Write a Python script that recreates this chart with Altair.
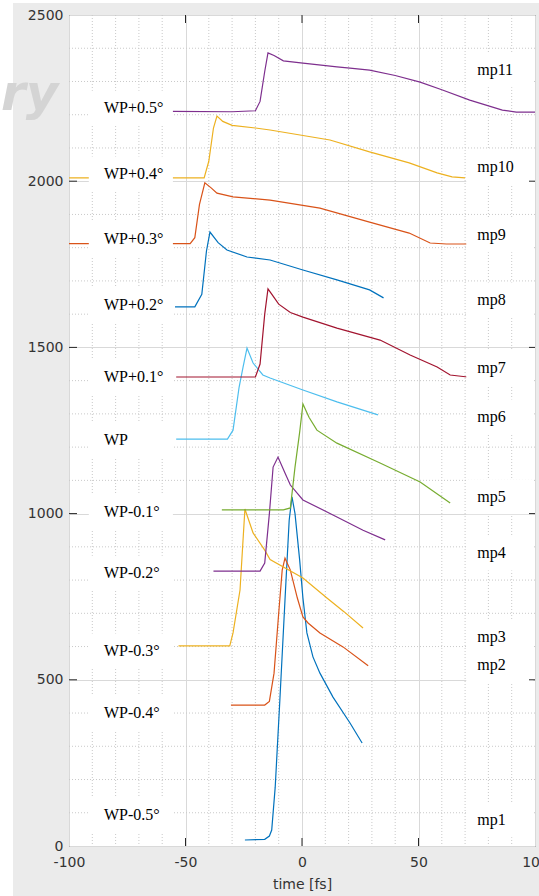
import altair as alt
import pandas as pd

# ---------------- data ----------------
series_names = ["mp1", "mp2", "mp3", "mp4", "mp5", "mp6", "mp7", "mp8", "mp9", "mp10", "mp11"]
series_colors = ["#0072BD", "#D95319", "#EDB120", "#7E2F8E", "#77AC30", "#4DBEEE",
                 "#A2142F", "#0072BD", "#D95319", "#EDB120", "#7E2F8E"]

mp1_t = [-24.5, -16, -14, -13, -11.5, -9.5, -7.3, -5.5, -4.3, -3, -1, 0.4, 2.1, 4.7, 7.7, 13.3, 20.6, 25.8]
mp1_v = [18, 20, 30, 48, 177, 439, 740, 980, 1050, 1000, 860, 746, 641, 569, 520, 448, 370, 310]

mp2_t = [-30.5, -16, -14, -12, -10, -8.5, -7.3, -5, -2, 0.4, 2.6, 7.7, 17.6, 28.4]
mp2_v = [424, 424, 435, 520, 700, 830, 866, 830, 746, 689, 671, 641, 599, 542]

mp3_t = [-53, -31, -29.6, -26.6, -24.5, -21, -16, -13.7, 0.4, 10.7, 18, 26.2]
mp3_v = [602, 602, 641, 770, 1014, 942, 890, 862, 806, 746, 705, 656]

mp4_t = [-38, -18, -16, -14, -12.4, -10.3, -7.3, -5, 0.4, 15, 26.2, 35.7]
mp4_v = [827, 827, 851, 1000, 1140, 1170, 1122, 1086, 1041, 990, 950, 921]

mp5_t = [-34.4, -8, -5, -3, -1, 0.4, 3, 6.4, 15, 33.5, 50.7, 63.6]
mp5_v = [1011, 1011, 1017, 1140, 1245, 1330, 1290, 1251, 1212, 1152, 1095, 1032]

mp6_t = [-54, -32, -29.6, -27, -25.3, -23.6, -21, -16.8, -13.7, 0.4, 15, 32.6]
mp6_v = [1224, 1224, 1251, 1380, 1441, 1498, 1453, 1417, 1408, 1372, 1336, 1297]

mp7_t = [-54, -20, -18, -16, -14.6, -13, -10, -5, 0.4, 15, 33.5, 46.4, 58, 63.6, 71]
mp7_v = [1411, 1411, 1450, 1600, 1676, 1660, 1630, 1605, 1591, 1558, 1522, 1477, 1441, 1417, 1411]

mp8_t = [-54.5, -46, -43, -41, -39.5, -36, -32.2, -23.6, -13.7, 0.4, 15, 29, 35]
mp8_v = [1622, 1622, 1660, 1790, 1847, 1815, 1793, 1772, 1763, 1733, 1703, 1673, 1649]

mp9_t = [-100, -48, -46, -44, -41.7, -39, -36.5, -29.6, -13.7, 7.7, 29, 46, 55, 62, 71.3]
mp9_v = [1812, 1812, 1830, 1930, 1995, 1980, 1964, 1953, 1943, 1919, 1877, 1844, 1814, 1811, 1811]

mp10_t = [-100, -42, -40, -38, -36.5, -34, -30, -20, -13.7, 12, 29, 46, 58, 64.4, 70]
mp10_v = [2010, 2010, 2060, 2160, 2196, 2180, 2168, 2160, 2154, 2124, 2088, 2055, 2025, 2013, 2010]

mp11_t = [-56, -30, -20, -18, -16, -14.6, -12, -8, 0.4, 15, 20.6, 29, 40, 50.7, 60, 72, 86, 92, 100]
mp11_v = [2210, 2209, 2212, 2240, 2330, 2386, 2378, 2362, 2355, 2344, 2340, 2334, 2318, 2298, 2275, 2244, 2214, 2208, 2208]

left_labels = ["WP+0.5°", "WP+0.4°", "WP+0.3°", "WP+0.2°", "WP+0.1°", "WP",
               "WP-0.1°", "WP-0.2°", "WP-0.3°", "WP-0.4°", "WP-0.5°"]
left_label_y = [2220, 2022, 1826, 1628, 1411, 1221, 1005, 821, 587, 400, 93]

right_labels = ["mp11", "mp10", "mp9", "mp8", "mp7", "mp6", "mp5", "mp4", "mp3", "mp2", "mp1"]
right_label_y = [2335, 2043, 1838, 1643, 1438, 1291, 1050, 881, 629, 545, 78]

x_major = [-100, -50, 0, 50, 100]
y_major = [0, 500, 1000, 1500, 2000, 2500]
x_minor = [-90, -80, -70, -60, -40, -30, -20, -10, 10, 20, 30, 40, 60, 70, 80, 90]
y_minor = [v for v in range(100, 2500, 100) if v % 500 != 0]

# ---------------- tables ----------------
all_t = [mp1_t, mp2_t, mp3_t, mp4_t, mp5_t, mp6_t, mp7_t, mp8_t, mp9_t, mp10_t, mp11_t]
all_v = [mp1_v, mp2_v, mp3_v, mp4_v, mp5_v, mp6_v, mp7_v, mp8_v, mp9_v, mp10_v, mp11_v]
rows = []
for name, ts, vs in zip(series_names, all_t, all_v):
    for i, (t, v) in enumerate(zip(ts, vs)):
        rows.append({"s": name, "x": t, "y": v, "i": i})
lines_df = pd.DataFrame(rows)

LX0, LX1, LTX = -91.5, -55.4, -85.0
RX0, RX1, RTX = 70.5, 99.3, 75.2
HALF = 52
left_df = pd.DataFrame({"label": left_labels, "y": left_label_y})
left_df["x"], left_df["x0"], left_df["x1"] = LTX, LX0, LX1
left_df["y0"], left_df["y1"] = left_df["y"] - HALF, left_df["y"] + HALF
right_df = pd.DataFrame({"label": right_labels, "y": right_label_y})
right_df["x"], right_df["x0"], right_df["x1"] = RTX, RX0, RX1
right_df["y0"], right_df["y1"] = right_df["y"] - HALF, right_df["y"] + HALF
boxes_df = pd.concat([left_df, right_df], ignore_index=True)

xminor_df = pd.DataFrame({"x": x_minor})
yminor_df = pd.DataFrame({"y": y_minor})
xtick_df = pd.DataFrame({"x": x_major[1:-1]})
ytick_df = pd.DataFrame({"y": y_major[1:-1]})
one_df = pd.DataFrame({"k": [0]})

# ---------------- scales / axes ----------------
W, H = 466, 831
xs = alt.Scale(domain=[-100, 100], nice=False, zero=False)
ys = alt.Scale(domain=[0, 2500], nice=False, zero=False)
FONT = "DejaVu Sans"
TXT = "#333333"
xaxis = alt.Axis(values=x_major, labelExpr="'' + datum.value", title="time [fs]",
                 grid=True, gridColor="#d9d9d9", ticks=False, domain=False,
                 labelFont=FONT, labelFontSize=14, labelColor=TXT, labelPadding=9,
                 labelFlush=False, labelOverlap=False,
                 titleFont=FONT, titleFontSize=14, titleFontWeight="normal",
                 titleColor=TXT, titlePadding=8)
yaxis = alt.Axis(values=y_major, labelExpr="'' + datum.value", title=None,
                 grid=True, gridColor="#d9d9d9", ticks=False, domain=False,
                 labelFont=FONT, labelFontSize=14, labelColor=TXT, labelPadding=6,
                 labelFlush=False, labelOverlap=False)

X = lambda f: alt.X(f, scale=xs, axis=xaxis)
Y = lambda f: alt.Y(f, scale=ys, axis=yaxis)

grid_x = alt.Chart(xminor_df).mark_rule(color="#c9c9c9", strokeDash=[1, 2], strokeWidth=1).encode(
    x=X("x:Q"))
grid_y = alt.Chart(yminor_df).mark_rule(color="#c9c9c9", strokeDash=[1, 2], strokeWidth=1).encode(
    y=Y("y:Q"))

lines = alt.Chart(lines_df).mark_line(strokeWidth=1.2, interpolate="linear").encode(
    x=X("x:Q"), y=Y("y:Q"),
    color=alt.Color("s:N", scale=alt.Scale(domain=series_names, range=series_colors), legend=None),
    detail="s:N", order="i:Q")

boxes = alt.Chart(boxes_df).mark_rect(color="white").encode(
    x=X("x0:Q"), x2="x1", y=Y("y0:Q"), y2="y1")

labels = alt.Chart(boxes_df).mark_text(font="Liberation Serif", fontSize=16, color="black",
                                       align="left", baseline="middle").encode(
    x=X("x:Q"), y=Y("y:Q"), text="label:N")

tick_style = dict(color="#262626", strokeWidth=1)
xt_bot = alt.Chart(xtick_df).mark_rule(**tick_style).encode(
    x=X("x:Q"), y=alt.value(H), y2=alt.value(H - 8))
xt_top = alt.Chart(xtick_df).mark_rule(**tick_style).encode(
    x=X("x:Q"), y=alt.value(0), y2=alt.value(8))
yt_left = alt.Chart(ytick_df).mark_rule(**tick_style).encode(
    y=Y("y:Q"), x=alt.value(0), x2=alt.value(8))
yt_right = alt.Chart(ytick_df).mark_rule(**tick_style).encode(
    y=Y("y:Q"), x=alt.value(W - 6), x2=alt.value(W))

strip_left = alt.Chart(one_df).mark_rect(color="white").encode(
    x=alt.value(-69), x2=alt.value(-56), y=alt.value(-15), y2=alt.value(H + 50))
strip_top = alt.Chart(one_df).mark_rect(color="white").encode(
    x=alt.value(-69), x2=alt.value(W + 4), y=alt.value(-15), y2=alt.value(-12))

watermark = alt.Chart(one_df).mark_text(text="ry", font=FONT, fontSize=50, fontWeight="bold",
                                        fontStyle="italic", color="#d4d4d4",
                                        align="left", baseline="alphabetic").encode(
    x=alt.value(-68), y=alt.value(95))

chart = alt.layer(
    grid_x, grid_y, lines, boxes, labels, xt_bot, xt_top, yt_left, yt_right,
    strip_left, strip_top, watermark
).properties(
    width=W, height=H,
    autosize=alt.AutoSizeParams(type="none"),
    padding={"left": 69, "top": 15, "right": 4, "bottom": 50},
    background="#EBEBEB",
).configure_view(
    fill="white", stroke="#262626", strokeWidth=1
)

chart.save("out.html", embed_options={"renderer": "svg", "actions": False})
